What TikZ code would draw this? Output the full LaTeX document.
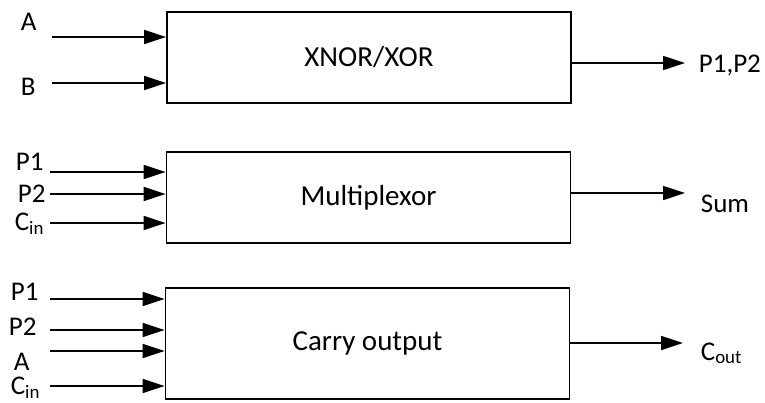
\documentclass[tikz,border=0pt]{standalone}
\usepackage{fontspec}
\setmainfont{Carlito}
\usetikzlibrary{positioning, arrows.meta}

\begin{document}
\begin{tikzpicture}[x=1pt, y=-1pt, line width=1.7pt,
    >={Triangle[length=22pt, width=14pt]},
    block/.style={draw, line width=1.8pt, minimum width=404pt, font=\fontsize{29}{34}\selectfont},
    sig/.style={inner sep=0pt, anchor=base west, font=\fontsize{27}{32}\selectfont}]
  \useasboundingbox (0,0) rectangle (765,402);

  % first stage: XNOR/XOR
  \node[block, minimum height=91pt] (xor) at (369,57.5) {XNOR/XOR};
  \node[sig] (a1) at (20,30) {A};
  \node[sig] (b1) at (20,95) {B};
  \node[sig] (p) at (698,72) {P1,P2};
  \coordinate (ina1) at (52,37);
  \coordinate (inb1) at (52,83);
  \coordinate (outp) at (685,63);
  \draw[->] (ina1) -- (ina1 -| xor.west);
  \draw[->] (inb1) -- (inb1 -| xor.west);
  \draw[->] (xor.east |- outp) -- (outp);

  % sum: multiplexor
  \node[block, minimum height=91pt] (mux) at (368.5,197.5) {Multiplexor};
  \node[sig] (p1m) at (15,170) {P1};
  \node[sig] (p2m) at (17,202) {P2};
  \node[sig] (cinm) at (14,230) {C\textsubscript{in}};
  \node[sig] (sum) at (700,212) {Sum};
  \coordinate (inp1m) at (50,172);
  \coordinate (inp2m) at (50,194);
  \coordinate (incm) at (50,223);
  \coordinate (outs) at (685,193);
  \draw[->] (inp1m) -- (inp1m -| mux.west);
  \draw[->] (inp2m) -- (inp2m -| mux.west);
  \draw[->] (incm) -- (incm -| mux.west);
  \draw[->] (mux.east |- outs) -- (outs);

  % carry output
  \node[block, minimum height=111pt] (cry) at (367.5,343.5) {Carry output};
  \node[sig] (p1c) at (10,300) {P1};
  \node[sig] (p2c) at (8,335) {P2};
  \node[sig] (ac) at (13,370) {A};
  \node[sig] (cinc) at (10,394) {C\textsubscript{in}};
  \node[sig] (cout) at (700,360) {C\textsubscript{out}};
  \coordinate (inp1c) at (50,299);
  \coordinate (inp2c) at (50,330);
  \coordinate (inac) at (50,351);
  \coordinate (incc) at (50,386);
  \coordinate (outc) at (683,343);
  \draw[->] (inp1c) -- (inp1c -| cry.west);
  \draw[->] (inp2c) -- (inp2c -| cry.west);
  \draw[->] (inac) -- (inac -| cry.west);
  \draw[->] (incc) -- (incc -| cry.west);
  \draw[->] (cry.east |- outc) -- (outc);
\end{tikzpicture}
\end{document}
